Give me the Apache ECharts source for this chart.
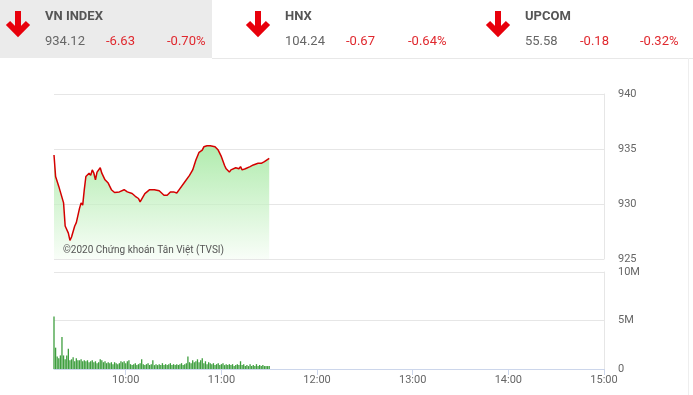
<!DOCTYPE html>
<html><head><meta charset="utf-8">
<script src="https://cdn.jsdelivr.net/npm/echarts@6/dist/echarts.min.js"></script>
<style>html,body{margin:0;padding:0;background:#fff}#c{width:693px;height:395px}</style>
</head><body><div id="c"></div>
<script>
// Price (VN-Index intraday), times (minutes after 9:15) and values
const priceTimes = [0,1,3,4,6,7,9,10,11,13,14,16,17,18,19,20,22,23,24,25,26,27,29,30,32,34,36,38,41,44,46,49,51,53,54,55,57,58,60,61,63,66,69,71,73,75,77,79,82,85,87,89,91,93,94,96,98,99,101,103,105,107,108,110,111,114,116,117,118,120,123,125,128,130,132,135];
const priceValues = [934.45,932.5,931.6,931.45,930.1,928,927.35,926.7,927,928,928.3,929.6,930.1,929.9,931.3,932.5,932.8,932.6,933.1,932.8,932.2,932.9,933.3,932.8,932.2,931.9,931.3,931.05,931.1,931.3,931.1,930.95,930.7,930.5,930.2,930.05,930.95,931.1,931.3,931.4,931.3,931.2,930.8,930.8,931.1,931.1,931.0,931.4,932.0,932.6,933.1,934.0,934.7,934.9,935.2,935.3,935.3,935.45,935.2,934.9,934.3,933.5,933.2,932.9,933.1,933.3,933.2,933.4,933.1,933.2,933.4,933.55,933.7,933.7,933.85,934.15];
// Volume per minute from 9:15 (millions)
const volumeValues = [5.4,2.2,1.3,1.1,1.4,3.3,1.4,1.0,1.4,2.1,0.9,1.0,1.2,0.8,1.1,0.9,0.9,1.0,0.8,0.9,0.8,0.9,0.7,0.8,0.9,0.7,0.8,0.6,0.7,1.0,0.9,0.7,0.8,0.6,0.7,0.6,0.7,0.5,0.7,0.6,0.5,0.6,0.8,0.7,0.8,0.6,0.8,0.9,0.5,0.4,0.5,0.6,0.4,0.5,0.6,1.0,0.5,0.4,0.5,0.6,0.4,0.5,0.9,0.4,0.5,0.4,0.5,0.4,0.6,0.4,0.5,0.4,0.5,0.6,0.4,0.5,0.4,0.5,0.4,0.5,0.6,0.4,0.5,0.6,1.3,0.7,0.6,0.9,0.7,0.8,1.0,0.7,0.9,1.1,0.6,0.8,0.5,0.7,0.6,0.5,0.6,0.4,0.5,0.6,0.4,0.5,0.6,0.4,0.5,0.4,0.5,0.4,0.5,0.3,0.4,0.5,0.4,0.8,0.4,0.5,0.3,0.4,0.3,0.5,0.3,0.4,0.3,0.5,0.3,0.4,0.3,0.4,0.3,0.3,0.3,0.3];
const priceTicks = [925,930,935,940];
const volumeTicks = ['0','5M','10M'];
const watermark = '©2020 Chứng khoán Tân Việt (TVSI)';
const indices = [
  {name:'VN INDEX', value:'934.12', change:'-6.63', pct:'-0.70%'},
  {name:'HNX', value:'104.24', change:'-0.67', pct:'-0.64%'},
  {name:'UPCOM', value:'55.58', change:'-0.18', pct:'-0.32%'}
];

// categories: every minute 9:15 .. 15:00
const startMin = 9*60+15, endMin = 15*60;
const categories = [];
for (let m = startMin; m <= endMin; m++) {
  categories.push(Math.floor(m/60) + ':' + String(m%60).padStart(2,'0'));
}
const catOf = (off) => categories[off];
const priceData = priceTimes.map((t,i)=>[catOf(t), priceValues[i]]);
const volData = volumeValues.map((v,i)=>[catOf(i), v*1e6]);
const isHour = (idx, val) => val.endsWith(':00');
const hourLabel = (val) => { const p = val.split(':'); return (p[0].length<2?'0':'')+p[0]+':'+p[1]; };

const font = 'Roboto, "Noto Sans", sans-serif';
const gridColor = '#e6e6e6', axisColor = '#ccd6eb', labColor = '#666';

// header graphics
const header = [];
header.push({type:'rect', shape:{x:0,y:0,width:212,height:58}, style:{fill:'#ebebeb'}, z:0});
header.push({type:'line', shape:{x1:212,y1:58.5,x2:693,y2:58.5}, style:{stroke:'#e8e8e8',lineWidth:1}});
header.push({type:'line', shape:{x1:688.5,y1:58,x2:688.5,y2:395}, style:{stroke:'#eeeeee',lineWidth:1}});
const cols = [{ax:18, tx:45, c1:106, c2:167},{ax:258, tx:285, c1:346, c2:408},{ax:498, tx:525, c1:580, c2:640}];
indices.forEach((d,i)=>{
  const c = cols[i];
  header.push({type:'polyline', shape:{points:[[c.ax,11],[c.ax,33]]}, style:{stroke:'#e8000b',lineWidth:6,fill:null}});
  header.push({type:'polyline', shape:{points:[[c.ax-10,23],[c.ax,33],[c.ax+10,23]]}, style:{stroke:'#e8000b',lineWidth:6,fill:null,lineJoin:'miter'}});
  header.push({type:'text', x:c.tx, y:17, style:{text:d.name, fill:'#555', font:'bold 13px '+font, textVerticalAlign:'middle'}});
  header.push({type:'text', x:c.tx, y:42, style:{text:d.value, fill:'#666', font:'13px '+font, textVerticalAlign:'middle'}});
  header.push({type:'text', x:c.c1, y:42, style:{text:d.change, fill:'#e0282e', font:'13px '+font, textVerticalAlign:'middle'}});
  header.push({type:'text', x:c.c2, y:42, style:{text:d.pct, fill:'#e0282e', font:'13px '+font, textVerticalAlign:'middle'}});
});
header.push({type:'text', x:63, y:250, z:10, style:{text:watermark, fill:'#555', font:'10px '+font, textVerticalAlign:'middle'}});

const chart = echarts.init(document.getElementById('c'), null, {renderer:'canvas'});
chart.setOption({
  animation:false,
  backgroundColor:'#fff',
  graphic: header,
  grid:[
    {left:54, width:550, top:94, height:165},
    {left:54, width:550, top:272, height:97}
  ],
  xAxis:[
    {type:'category', gridIndex:0, data:categories, boundaryGap:false,
     axisLine:{show:false}, axisTick:{show:false}, axisLabel:{show:false}, splitLine:{show:false}},
    {type:'category', gridIndex:1, data:categories, boundaryGap:false,
     axisLine:{show:true, lineStyle:{color:axisColor}},
     axisTick:{show:true, interval:isHour, length:6, lineStyle:{color:axisColor}},
     axisLabel:{show:true, interval:isHour, formatter:hourLabel, color:labColor, fontSize:11, fontFamily:font, margin:6},
     splitLine:{show:false}}
  ],
  yAxis:[
    {type:'value', gridIndex:0, position:'right', min:priceTicks[0], max:priceTicks[priceTicks.length-1], interval:5,
     axisLine:{show:true, lineStyle:{color:gridColor}}, axisTick:{show:false},
     axisLabel:{color:labColor, fontSize:11, fontFamily:font, margin:14, padding:[3,0,0,0]},
     splitLine:{show:true, lineStyle:{color:gridColor}}},
    {type:'value', gridIndex:1, position:'right', min:0, max:10e6, interval:5e6,
     axisLine:{show:true, lineStyle:{color:gridColor}}, axisTick:{show:false},
     axisLabel:{color:labColor, fontSize:11, fontFamily:font, margin:14, padding:[2,0,0,0],
       formatter:(v)=>volumeTicks[Math.round(v/5e6)]},
     splitLine:{show:true, lineStyle:{color:gridColor}}}
  ],
  series:[
    {type:'line', xAxisIndex:0, yAxisIndex:0, data:priceData, showSymbol:false, symbol:'none',
     lineStyle:{color:'#d40000', width:1.5},
     areaStyle:{origin:'start', color:new echarts.graphic.LinearGradient(0,0,0,1,[
       {offset:0, color:'#8ee38a'},{offset:1, color:'#f6fdf5'}])}},
    {type:'bar', xAxisIndex:1, yAxisIndex:1, data:volData, barWidth:1.3, itemStyle:{color:'#3e9e3e'}}
  ]
});
</script></body></html>
